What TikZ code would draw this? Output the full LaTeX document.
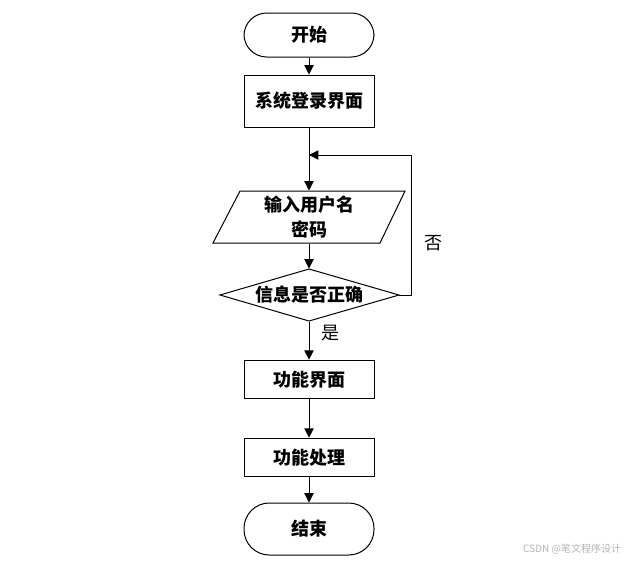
\documentclass[tikz,border=0pt]{standalone}
\usepackage{fontspec}
\setmainfont{Noto Sans CJK SC}
\usetikzlibrary{arrows.meta}
\definecolor{markgray}{HTML}{B4B4B4}

\begin{document}
\begin{tikzpicture}[x=0.75pt, y=-0.75pt, line width=0.75pt,
    box/.style={draw, minimum width=97.5pt, inner sep=0pt, font=\fontsize{13.5}{17}\selectfont\bfseries},
    terminal/.style={box, rounded corners=17pt},
    flow/.style={-{Triangle[length=7pt, width=7pt]}},
    note/.style={font=\fontsize{13.5}{17}\selectfont}]
  \useasboundingbox (0,0) rectangle (631,561);

  % main column
  \node[terminal, minimum height=33pt] (start) at (309,35) {开始};
  \node[box, minimum height=39pt] (login) at (309,101) {系统登录界面};
  \draw (240,191) -- (405,191) -- (380,243) -- (213,243) -- cycle;
  \node[box, draw=none, minimum height=39pt, align=center, font=\fontsize{13.5}{18.5}\selectfont\bfseries] (input) at (309,217) {输入用户名\\密码};
  \draw (309,269) -- (399,295) -- (309,321) -- (220,295) -- cycle;
  \node[box, draw=none, minimum width=134pt, minimum height=39pt] (check) at (309,295) {信息是否正确};
  \node[box, minimum height=29pt] (menu) at (309,379.5) {功能界面};
  \node[box, minimum height=29pt] (work) at (309,457.5) {功能处理};
  \node[terminal, minimum height=39pt, rounded corners=19pt] (finish) at (309,529) {结束};

  % connectors
  \coordinate (merge) at (309,155);
  \coordinate (loopcorner) at (411,155);
  \draw[flow] (start) -- (login);
  \draw[flow] (login) -- (input);
  \draw[flow] (input) -- (check);
  \draw[flow] (check.east) -| (loopcorner) -- (merge);
  \draw[flow] (check) -- (menu);
  \draw[flow] (menu) -- (work);
  \draw[flow] (work) -- (finish);

  \node[note] (no) at (433,243) {否};
  \node[note] (yes) at (330,333) {是};

  \node[font=\fontsize{7.5}{9}\selectfont, text=markgray, anchor=east] (mark) at (626,549) {CSDN @笔文程序设计};
\end{tikzpicture}
\end{document}
